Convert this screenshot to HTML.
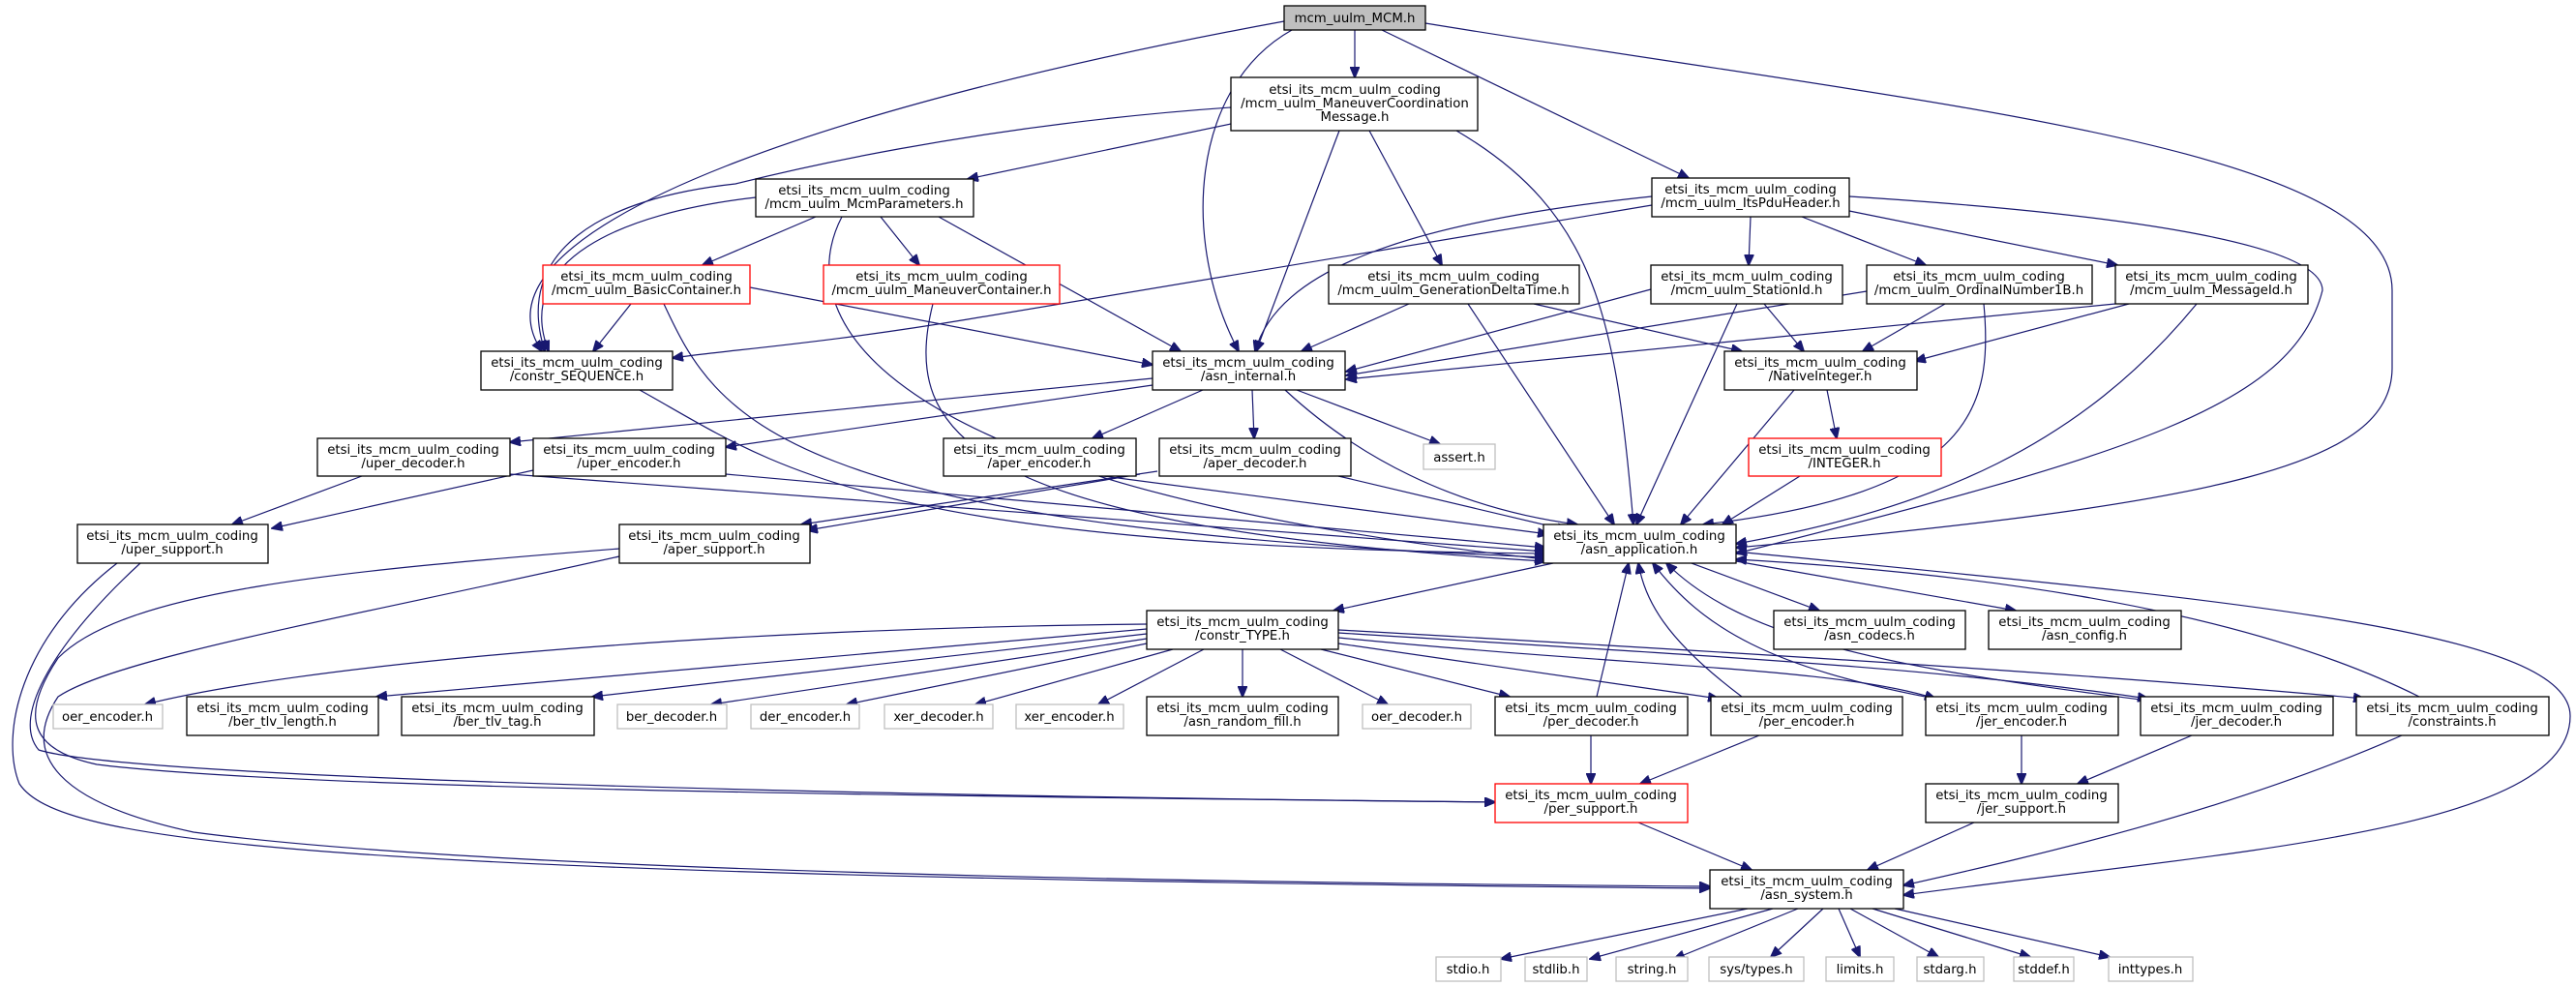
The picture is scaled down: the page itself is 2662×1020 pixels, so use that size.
<!DOCTYPE html>
<html><head><meta charset="utf-8"><style>
html,body{margin:0;padding:0;background:#fff}
svg{display:block}
text{font-family:"DejaVu Sans","Liberation Sans",sans-serif;font-size:13.3px;fill:#000}
.n{fill:#fff;stroke:#000;stroke-width:1.3}
.r{fill:#fff;stroke:#f00;stroke-width:1.3}
.g{fill:#fff;stroke:#bfbfbf;stroke-width:1.3}
.e{fill:none;stroke:#191970;stroke-width:1.2}
</style></head><body>
<svg width="2662" height="1020" viewBox="0 0 2662 1020" xmlns="http://www.w3.org/2000/svg">
<defs><marker id="a" markerWidth="12" markerHeight="10" refX="11" refY="5" orient="auto" markerUnits="userSpaceOnUse"><path d="M0,0 L12,5 L0,10 Z" fill="#191970" stroke="#191970"/></marker></defs>
<g marker-end="url(#a)" class="e">
<!-- MCM -->
<path class="e" d="M1400,31 L1400,80"/>
<path class="e" d="M1428,31 L1745,184"/>
<path class="e" d="M1335,31 C1230,90 1220,250 1280,363"/>
<path class="e" d="M1327,22 C900,100 470,230 560,363"/>
<path class="e" d="M1473,24 C2000,110 2472,150 2472,300 L2472,380 C2472,480 2300,520 1794,566"/>
<!-- MCMsg -->
<path class="e" d="M1272,128 L1000,185"/>
<path class="e" d="M1272,111 C1000,130 800,180 760,190 C620,205 530,260 563,363"/>
<path class="e" d="M1384,135 L1298,363"/>
<path class="e" d="M1415,135 L1490,274"/>
<path class="e" d="M1505,135 C1650,220 1670,330 1688,542"/>
<!-- McmP -->
<path class="e" d="M843,224 L726,274"/>
<path class="e" d="M910,224 L950,274"/>
<path class="e" d="M781,204 C640,220 530,270 567,363"/>
<path class="e" d="M970,224 L1220,363"/>
<path class="e" d="M870,224 C820,320 880,500 1597,578"/>
<!-- ItsPdu -->
<path class="e" d="M1809,224 L1807,274"/>
<path class="e" d="M1862,224 L1990,274"/>
<path class="e" d="M1911,218 L2188,274"/>
<path class="e" d="M1707,203 C1450,230 1320,280 1297,363"/>
<path class="e" d="M1707,212 C1400,262 1100,312 1000,330 C850,355 750,362 695,370"/>
<path class="e" d="M1911,203 C2180,220 2400,250 2400,300 C2370,420 2200,470 1794,572"/>
<!-- row 274 -->
<path class="e" d="M652,314 L613,363"/>
<path class="e" d="M775,297 L1191,377"/>
<path class="e" d="M686,314 C740,430 800,545 1597,576"/>
<path class="e" d="M964,314 C930,450 1000,545 1597,580"/>
<path class="e" d="M1456,314 L1345,363"/>
<path class="e" d="M1585,314 L1800,363"/>
<path class="e" d="M1517,314 L1668,542"/>
<path class="e" d="M1706,299 L1391,384"/>
<path class="e" d="M1795,314 L1691,542"/>
<path class="e" d="M1823,314 L1864,363"/>
<path class="e" d="M1929,301 L1391,388"/>
<path class="e" d="M2010,314 L1925,363"/>
<path class="e" d="M2050,314 C2060,420 2040,510 1760,542"/>
<path class="e" d="M2186,314 L1391,392"/>
<path class="e" d="M2200,314 L1979,373"/>
<path class="e" d="M2270,314 C2150,460 2000,525 1794,562"/>
<!-- row 363 -->
<path class="e" d="M661,403 C800,480 890,565 1597,572"/>
<path class="e" d="M1191,391 L527,457"/>
<path class="e" d="M1191,398 L750,462"/>
<path class="e" d="M1243,403 L1129,453"/>
<path class="e" d="M1294,403 L1296,453"/>
<path class="e" d="M1340,403 L1488,459"/>
<path class="e" d="M1328,403 C1400,470 1500,525 1630,542"/>
<path class="e" d="M1854,403 L1737,542"/>
<path class="e" d="M1888,403 L1898,453"/>
<!-- row 453 -->
<path class="e" d="M374,492 L240,542"/>
<path class="e" d="M551,486 L281,546"/>
<path class="e" d="M527,490 L1597,570"/>
<path class="e" d="M750,490 L1597,566"/>
<path class="e" d="M1178,490 L834,548"/>
<path class="e" d="M1140,492 L1600,552"/>
<path class="e" d="M1196,487 L828,542"/>
<path class="e" d="M1383,492 L1620,548"/>
<path class="e" d="M1860,492 L1780,542"/>
<!-- supports -->
<path class="e" d="M145,582 C60,660 10,740 40,775 C120,800 700,820 1545,829"/>
<path class="e" d="M121,582 C20,660 0,760 20,810 C60,870 300,905 1767,918"/>
<path class="e" d="M640,567 C350,590 130,610 60,680 C20,740 30,775 100,790 C300,815 900,822 1545,829"/>
<path class="e" d="M640,575 C350,640 120,680 60,720 C20,780 60,830 200,860 C500,900 1200,912 1767,916"/>
<!-- app -->
<path class="e" d="M1605,582 L1378,631"/>
<path class="e" d="M1748,582 L1880,631"/>
<path class="e" d="M1794,580 L2083,631"/>
<path class="e" d="M1794,570 C2300,620 2656,650 2656,740 C2656,860 2300,880 1967,925"/>
<!-- TYPE -->
<path class="e" d="M1185,645 C700,650 300,690 150,728"/>
<path class="e" d="M1185,650 L389,720"/>
<path class="e" d="M1185,655 L612,720"/>
<path class="e" d="M1185,660 L735,728"/>
<path class="e" d="M1185,665 L875,728"/>
<path class="e" d="M1212,671 L1008,728"/>
<path class="e" d="M1244,671 L1135,728"/>
<path class="e" d="M1284,671 L1284,720"/>
<path class="e" d="M1323,671 L1434,728"/>
<path class="e" d="M1365,671 L1560,720"/>
<path class="e" d="M1383,665 L1776,722"/>
<path class="e" d="M1383,659 C1700,690 1900,690 2000,722"/>
<path class="e" d="M1383,654 C1800,680 2000,690 2220,722"/>
<path class="e" d="M1383,651 C1900,680 2200,700 2443,722"/>
<!-- mid up to app -->
<path class="e" d="M1650,720 L1683,582"/>
<path class="e" d="M1800,720 C1720,660 1700,620 1693,582"/>
<path class="e" d="M2000,722 C1830,690 1760,650 1708,582"/>
<path class="e" d="M2220,724 C1950,690 1800,660 1722,582"/>
<path class="e" d="M2500,720 C2300,620 2000,590 1794,578"/>
<!-- down -->
<path class="e" d="M1644,760 L1644,810"/>
<path class="e" d="M1818,760 L1695,810"/>
<path class="e" d="M2089,760 L2089,810"/>
<path class="e" d="M2265,760 L2147,810"/>
<path class="e" d="M2482,760 C2300,840 2100,885 1967,915"/>
<path class="e" d="M1693,850 L1810,899"/>
<path class="e" d="M2040,850 L1930,899"/>
<!-- asn_system -->
<path class="e" d="M1806,939 L1551,991"/>
<path class="e" d="M1832,939 L1643,991"/>
<path class="e" d="M1858,939 L1730,991"/>
<path class="e" d="M1884,939 L1830,989"/>
<path class="e" d="M1900,939 L1922,989"/>
<path class="e" d="M1912,939 L2003,989"/>
<path class="e" d="M1935,939 L2098,989"/>
<path class="e" d="M1958,939 L2180,989"/>
</g>
<!-- nodes -->
<g text-anchor="middle">
<rect x="1327" y="6" width="146" height="25" fill="#bfbfbf" stroke="#000" stroke-width="1.3"/><text x="1400" y="23">mcm_uulm_MCM.h</text>
<rect class="n" x="1272" y="80" width="255" height="55"/><text x="1400" y="97">etsi_its_mcm_uulm_coding</text><text x="1400" y="111">/mcm_uulm_ManeuverCoordination</text><text x="1400" y="125">Message.h</text>
<rect class="n" x="781" y="185" width="225" height="39"/><text x="893" y="201">etsi_its_mcm_uulm_coding</text><text x="893" y="215">/mcm_uulm_McmParameters.h</text>
<rect class="n" x="1707" y="184" width="204" height="40"/><text x="1809" y="200">etsi_its_mcm_uulm_coding</text><text x="1809" y="214">/mcm_uulm_ItsPduHeader.h</text>
<rect class="r" x="561" y="274" width="214" height="40"/><text x="668" y="290">etsi_its_mcm_uulm_coding</text><text x="668" y="304">/mcm_uulm_BasicContainer.h</text>
<rect class="r" x="851" y="274" width="244" height="40"/><text x="973" y="290">etsi_its_mcm_uulm_coding</text><text x="973" y="304">/mcm_uulm_ManeuverContainer.h</text>
<rect class="n" x="1373" y="274" width="259" height="40"/><text x="1502" y="290">etsi_its_mcm_uulm_coding</text><text x="1502" y="304">/mcm_uulm_GenerationDeltaTime.h</text>
<rect class="n" x="1706" y="274" width="198" height="40"/><text x="1805" y="290">etsi_its_mcm_uulm_coding</text><text x="1805" y="304">/mcm_uulm_StationId.h</text>
<rect class="n" x="1929" y="274" width="233" height="40"/><text x="2045" y="290">etsi_its_mcm_uulm_coding</text><text x="2045" y="304">/mcm_uulm_OrdinalNumber1B.h</text>
<rect class="n" x="2186" y="274" width="199" height="40"/><text x="2285" y="290">etsi_its_mcm_uulm_coding</text><text x="2285" y="304">/mcm_uulm_MessageId.h</text>
<rect class="n" x="497" y="363" width="198" height="40"/><text x="596" y="379">etsi_its_mcm_uulm_coding</text><text x="596" y="393">/constr_SEQUENCE.h</text>
<rect class="n" x="1191" y="363" width="199" height="40"/><text x="1290" y="379">etsi_its_mcm_uulm_coding</text><text x="1290" y="393">/asn_internal.h</text>
<rect class="n" x="1782" y="363" width="199" height="40"/><text x="1881" y="379">etsi_its_mcm_uulm_coding</text><text x="1881" y="393">/NativeInteger.h</text>
<rect class="n" x="328" y="453" width="199" height="39"/><text x="427" y="469">etsi_its_mcm_uulm_coding</text><text x="427" y="483">/uper_decoder.h</text>
<rect class="n" x="551" y="453" width="199" height="39"/><text x="650" y="469">etsi_its_mcm_uulm_coding</text><text x="650" y="483">/uper_encoder.h</text>
<rect class="n" x="975" y="453" width="199" height="39"/><text x="1074" y="469">etsi_its_mcm_uulm_coding</text><text x="1074" y="483">/aper_encoder.h</text>
<rect class="n" x="1198" y="453" width="198" height="39"/><text x="1297" y="469">etsi_its_mcm_uulm_coding</text><text x="1297" y="483">/aper_decoder.h</text>
<rect class="g" x="1471" y="459" width="74" height="26"/><text x="1508" y="477">assert.h</text>
<rect class="r" x="1807" y="453" width="199" height="39"/><text x="1906" y="469">etsi_its_mcm_uulm_coding</text><text x="1906" y="483">/INTEGER.h</text>
<rect class="n" x="80" y="542" width="197" height="40"/><text x="178" y="558">etsi_its_mcm_uulm_coding</text><text x="178" y="572">/uper_support.h</text>
<rect class="n" x="640" y="542" width="197" height="40"/><text x="738" y="558">etsi_its_mcm_uulm_coding</text><text x="738" y="572">/aper_support.h</text>
<rect class="n" x="1595" y="542" width="199" height="40"/><text x="1694" y="558">etsi_its_mcm_uulm_coding</text><text x="1694" y="572">/asn_application.h</text>
<rect class="n" x="1185" y="631" width="198" height="40"/><text x="1284" y="647">etsi_its_mcm_uulm_coding</text><text x="1284" y="661">/constr_TYPE.h</text>
<rect class="n" x="1833" y="631" width="198" height="40"/><text x="1932" y="647">etsi_its_mcm_uulm_coding</text><text x="1932" y="661">/asn_codecs.h</text>
<rect class="n" x="2055" y="631" width="199" height="40"/><text x="2154" y="647">etsi_its_mcm_uulm_coding</text><text x="2154" y="661">/asn_config.h</text>
<rect class="g" x="55" y="728" width="113" height="25"/><text x="111" y="745">oer_encoder.h</text>
<rect class="n" x="193" y="720" width="198" height="40"/><text x="292" y="736">etsi_its_mcm_uulm_coding</text><text x="292" y="750">/ber_tlv_length.h</text>
<rect class="n" x="415" y="720" width="199" height="40"/><text x="514" y="736">etsi_its_mcm_uulm_coding</text><text x="514" y="750">/ber_tlv_tag.h</text>
<rect class="g" x="638" y="728" width="113" height="25"/><text x="694" y="745">ber_decoder.h</text>
<rect class="g" x="776" y="728" width="112" height="25"/><text x="832" y="745">der_encoder.h</text>
<rect class="g" x="914" y="728" width="112" height="25"/><text x="970" y="745">xer_decoder.h</text>
<rect class="g" x="1050" y="728" width="111" height="25"/><text x="1105" y="745">xer_encoder.h</text>
<rect class="n" x="1185" y="720" width="198" height="40"/><text x="1284" y="736">etsi_its_mcm_uulm_coding</text><text x="1284" y="750">/asn_random_fill.h</text>
<rect class="g" x="1408" y="728" width="112" height="25"/><text x="1464" y="745">oer_decoder.h</text>
<rect class="n" x="1545" y="720" width="199" height="40"/><text x="1644" y="736">etsi_its_mcm_uulm_coding</text><text x="1644" y="750">/per_decoder.h</text>
<rect class="n" x="1768" y="720" width="198" height="40"/><text x="1867" y="736">etsi_its_mcm_uulm_coding</text><text x="1867" y="750">/per_encoder.h</text>
<rect class="n" x="1990" y="720" width="199" height="40"/><text x="2089" y="736">etsi_its_mcm_uulm_coding</text><text x="2089" y="750">/jer_encoder.h</text>
<rect class="n" x="2212" y="720" width="199" height="40"/><text x="2311" y="736">etsi_its_mcm_uulm_coding</text><text x="2311" y="750">/jer_decoder.h</text>
<rect class="n" x="2435" y="720" width="199" height="40"/><text x="2534" y="736">etsi_its_mcm_uulm_coding</text><text x="2534" y="750">/constraints.h</text>
<rect class="r" x="1545" y="810" width="199" height="40"/><text x="1644" y="826">etsi_its_mcm_uulm_coding</text><text x="1644" y="840">/per_support.h</text>
<rect class="n" x="1990" y="810" width="199" height="40"/><text x="2089" y="826">etsi_its_mcm_uulm_coding</text><text x="2089" y="840">/jer_support.h</text>
<rect class="n" x="1767" y="899" width="200" height="40"/><text x="1867" y="915">etsi_its_mcm_uulm_coding</text><text x="1867" y="929">/asn_system.h</text>
<rect class="g" x="1484" y="989" width="67" height="25"/><text x="1517" y="1006">stdio.h</text>
<rect class="g" x="1576" y="989" width="64" height="25"/><text x="1608" y="1006">stdlib.h</text>
<rect class="g" x="1670" y="989" width="74" height="25"/><text x="1707" y="1006">string.h</text>
<rect class="g" x="1766" y="989" width="98" height="25"/><text x="1815" y="1006">sys/types.h</text>
<rect class="g" x="1887" y="989" width="70" height="25"/><text x="1922" y="1006">limits.h</text>
<rect class="g" x="1981" y="989" width="69" height="25"/><text x="2015" y="1006">stdarg.h</text>
<rect class="g" x="2081" y="989" width="62" height="25"/><text x="2112" y="1006">stddef.h</text>
<rect class="g" x="2179" y="989" width="87" height="25"/><text x="2222" y="1006">inttypes.h</text>
</g>
</svg>
</body></html>
